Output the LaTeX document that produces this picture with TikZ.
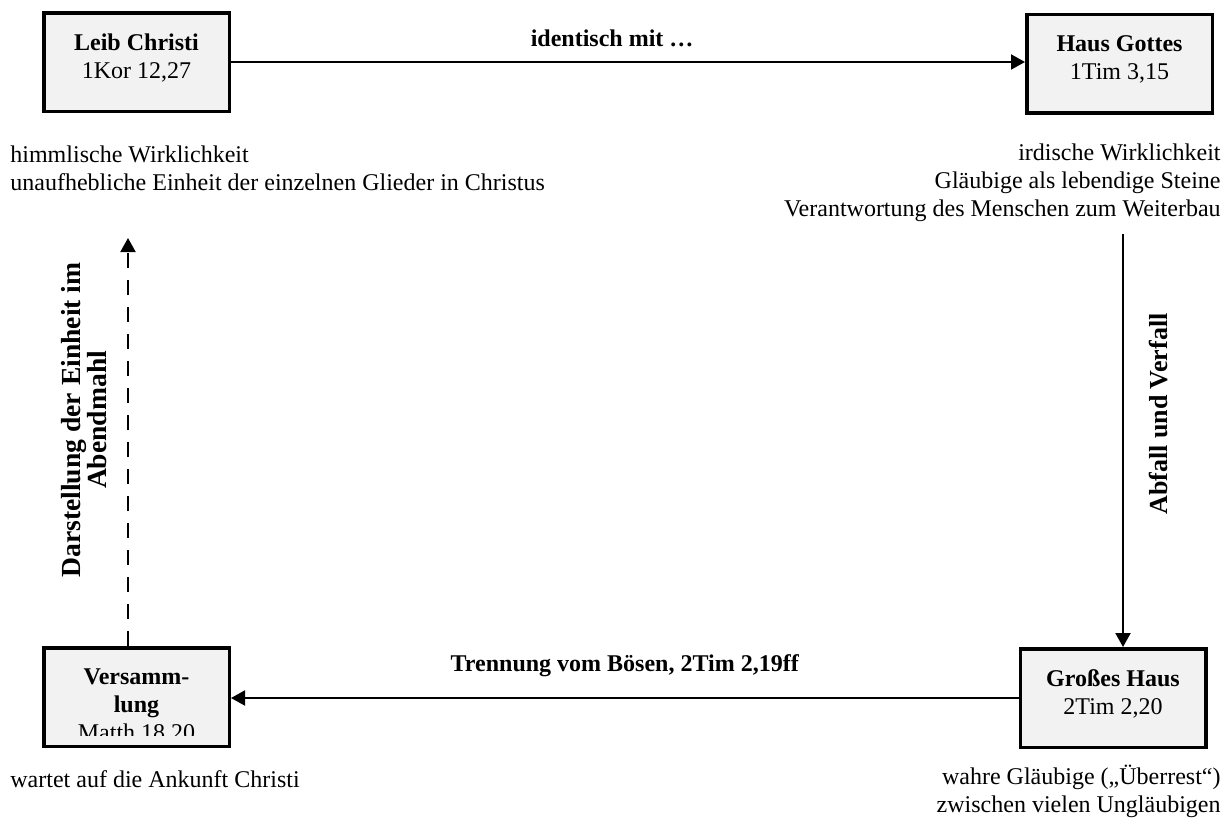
\documentclass[tikz,border=0pt]{standalone}
\usepackage{fontspec}
\setmainfont{Liberation Serif}
\usetikzlibrary{arrows.meta,positioning}

\begin{document}
\begin{tikzpicture}[x=0.5pt,y=-0.5pt]
  \tikzstyle{box} = [draw, line width=1.75pt, fill=black!5, minimum width=92.75pt, minimum height=49.25pt, inner sep=0pt];
  \tikzstyle{boxtext} = [align=center, inner sep=0pt, font=\fontsize{12}{14}\selectfont];
  \tikzstyle{note} = [inner sep=0pt, font=\fontsize{12}{14}\selectfont];
  \tikzstyle{pfeil} = [-{Triangle[length=7pt,width=7.5pt]}, line width=1pt];
  \tikzstyle{pfeiltext} = [inner sep=0pt, font=\fontsize{12}{14}\selectfont\bfseries];

  \useasboundingbox (0,0) rectangle (1232,825);

  \node[box](leib) at (136.5,62) {};
  \node[box](haus) at (1119.5,63.5) {};
  \node[box](vers) at (136.5,697) {};
  \node[box](gross) at (1113,698) {};

  \node[boxtext, below=11.3pt of leib.north](leibtext) {\textbf{Leib Christi}\\1Kor 12,27};
  \node[boxtext, below=11.3pt of haus.north](haustext) {\textbf{Haus Gottes}\\1Tim 3,15};
  \node[boxtext, below=11.3pt of gross.north](grosstext) {\textbf{Großes Haus}\\2Tim 2,20};
  \begin{scope}
    \clip (44,648) rectangle (229,735);
    \node[boxtext, below=11.3pt of vers.north](verstext) {\textbf{Versamm-}\\\textbf{lung}\\Matth 18,20};
  \end{scope}

  \node[note, anchor=base west, align=left](himmel) at (10,190)
    {himmlische Wirklichkeit\\unaufhebliche Einheit der einzelnen Glieder in Christus};
  \node[note, anchor=base east, align=right](irdisch) at (1221,216)
    {irdische Wirklichkeit\\Gläubige als lebendige Steine\\Verantwortung des Menschen zum Weiterbau};
  \node[note, anchor=base west, align=left](ankunft) at (10,787)
    {wartet auf die Ankunft Christi};
  \node[note, anchor=base east, align=right](rest) at (1221,812)
    {wahre Gläubige („Überrest“)\\zwischen vielen Ungläubigen};

  \coordinate (abfallstart) at (1123,234);
  \coordinate (abendtip) at (128,238);

  \draw[pfeil] (leib) -- (leib -| haus.west)
    node[pfeiltext, pos=0.48, above=7pt] {identisch mit …};
  \draw[pfeil] (abfallstart) -- (abfallstart |- gross.north)
    node[pfeiltext, pos=0.436, xshift=18pt, rotate=90, font=\fontsize{13}{14}\selectfont\bfseries] {Abfall und Verfall};
  \draw[pfeil] (gross) -- (gross -| vers.east)
    node[pfeiltext, midway, above=10pt] {Trennung vom Bösen, 2Tim 2,19ff};
  \draw[pfeil, dash pattern=on 7.5pt off 6pt] (abendtip |- vers.north) -- (abendtip)
    node[pfeiltext, pos=0.554, xshift=-22pt, rotate=90, align=center, font=\fontsize{13.8}{13}\selectfont\bfseries] {Darstellung der Einheit im\\Abendmahl};
\end{tikzpicture}
\end{document}
